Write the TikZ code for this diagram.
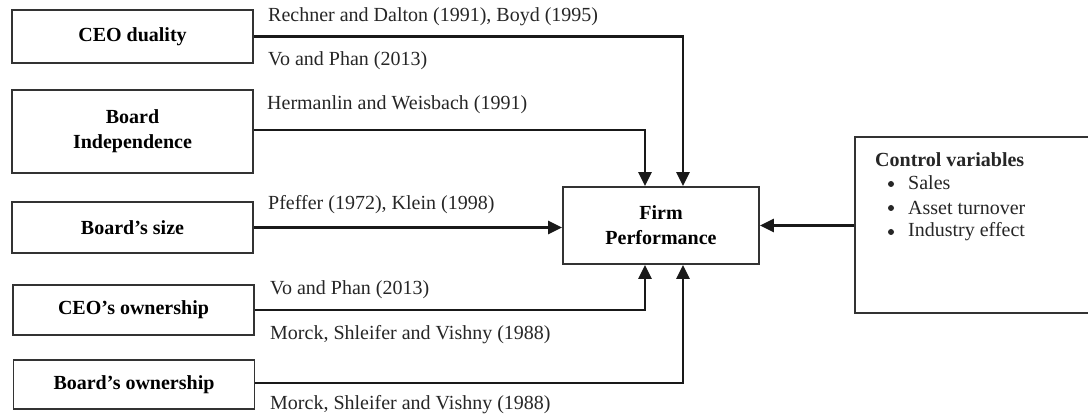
\documentclass[tikz,border=0pt]{standalone}
\usepackage{fontspec}
\setmainfont{Liberation Serif}
\usetikzlibrary{arrows.meta}
\begin{document}
\begin{tikzpicture}[x=1pt,y=-1pt,
 box/.style={draw=black!80,line width=1.8pt,fill=white,inner sep=0pt,align=center,font=\fontsize{20}{25}\selectfont\bfseries},
 lbox/.style={box,minimum width=241pt},
 conn/.style={draw=black!90,line width=2.8pt,-{Triangle[length=14pt,width=13pt]}},
 lbl/.style={anchor=west,inner sep=0pt,font=\fontsize{20}{24}\selectfont,text=black!85},
 ctl/.style={anchor=west,inner sep=0pt,font=\fontsize{20}{24}\selectfont,text=black!85},
 bul/.style={circle,fill=black!85,inner sep=0pt,minimum size=6pt}]
\useasboundingbox (0,0) rectangle (1088,417);
% boxes
\node[lbox,minimum height=53pt] (ceo) at (132.5,36.5) {CEO duality};
\node[lbox,minimum height=83pt] (ind) at (132.5,131.5) {Board\\Independence};
\node[lbox,minimum height=51pt] (size) at (132.5,227.5) {Board’s size};
\node[lbox,minimum height=50pt] (ceoown) at (133.5,310) {CEO’s ownership};
\node[lbox,minimum height=49pt] (bown) at (134,384.5) {Board’s ownership};
\node[box,minimum width=196pt,minimum height=77pt] (firm) at (661,225.5) {Firm\\Performance};
\node[box,minimum width=240pt,minimum height=176pt] (ctrl) at (975,225) {};
% control variables text
\node[ctl,font=\fontsize{20}{24}\selectfont\bfseries] (ctitle) at (875,160) {Control variables};
\node[bul] (b1) at (891,184) {};
\node[ctl] (t1) at (908,183) {Sales};
\node[bul] (b2) at (891,208) {};
\node[ctl] (t2) at (908,208) {Asset turnover};
\node[bul] (b3) at (891,232) {};
\node[ctl] (t3) at (908,232) {Industry effect};
% connectors
\draw[conn] (ceo.east) -| ([xshift=22pt]firm.north);
\draw[conn] ([yshift=1.5pt]ind.east) -| ([xshift=-16pt]firm.north);
\draw[conn] (size.east) -- (firm.west |- size.east);
\draw[conn] (ceoown.east) -| ([xshift=-16pt]firm.south);
\draw[conn] ([yshift=1.5pt]bown.east) -| ([xshift=22pt]firm.south);
\draw[conn] (ctrl.west |- firm.east) -- (firm.east);
% labels
\node[lbl] (l1) at (268,17) {Rechner and Dalton (1991), Boyd (1995)};
\node[lbl] (l2) at (268,61) {Vo and Phan (2013)};
\node[lbl] (l3) at (267,105) {Hermanlin and Weisbach (1991)};
\node[lbl] (l4) at (268,205) {Pfeffer (1972), Klein (1998)};
\node[lbl] (l5) at (270,290) {Vo and Phan (2013)};
\node[lbl] (l6) at (270,335) {Morck, Shleifer and Vishny (1988)};
\node[lbl] (l7) at (270,405) {Morck, Shleifer and Vishny (1988)};
\end{tikzpicture}
\end{document}
